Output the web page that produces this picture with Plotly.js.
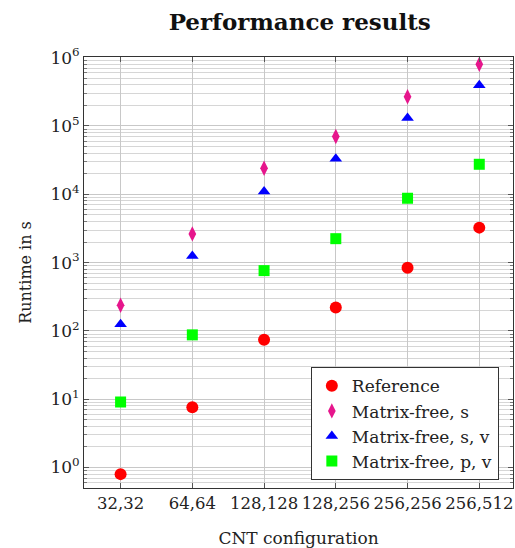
<!DOCTYPE html>
<html><head><meta charset="utf-8">
<script src="https://cdn.plot.ly/plotly-3.0.1.min.js"></script>
<style>html,body{margin:0;padding:0;background:#fff}#chart{width:515px;height:548px}</style>
</head><body><div id="chart"></div>
<script>
var categories = ["32,32","64,64","128,128","128,256","256,256","256,512"];
var reference = [0.80, 7.6, 74, 220, 840, 3250];
var mfS = [238, 2630, 24000, 70000, 268000, 800000];
var mfSV = [125, 1250, 11000, 33000, 131000, 394000];
var mfPV = [9.1, 87.5, 763, 2240, 8750, 27500];
var seriesNames = ["Reference","Matrix-free, s","Matrix-free, s, v","Matrix-free, p, v"];
var yTickVals = [1, 10, 100, 1000, 10000, 100000, 1000000];
var yTickText = ["10<sup>0</sup>","10<sup>1</sup>","10<sup>2</sup>","10<sup>3</sup>","10<sup>4</sup>","10<sup>5</sup>","10<sup>6</sup>"];

var font = "DejaVu Serif";
function tr(y, name, color, symbol, size){
  return {x: categories, y: y, name: name, type: 'scatter', mode: 'markers',
    marker: {color: color, symbol: symbol, size: size, line: {width: 0}}};
}
var data = [
  tr(reference, seriesNames[0], '#ff0000', 'circle', 12),
  tr(mfS, seriesNames[1], '#e6168c', 'diamond-tall', 11),
  tr(mfSV, seriesNames[2], '#0000ff', 'triangle-up', 11),
  tr(mfPV, seriesNames[3], '#00ff00', 'square', 11)
];
var layout = {
  width: 515, height: 548,
  margin: {l: 83.5, r: 2, t: 57, b: 60},
  paper_bgcolor: '#fff', plot_bgcolor: '#fff',
  font: {family: font, size: 16, color: '#222'},
  title: {text: '<b>Performance results</b>', font: {family: font, size: 23, color: '#111'}, x: 0.582, xanchor: 'center', y: 0.96, yanchor: 'middle'},
  xaxis: {type: 'category', range: [-0.51, 5.47], showgrid: true, gridcolor: '#c8c8c8', gridwidth: 1,
    showline: true, linecolor: '#333', linewidth: 1, mirror: 'ticks', ticks: 'inside', ticklen: 5, tickcolor: '#555',
    tickfont: {family: font, size: 16.5, color: '#222'}, zeroline: false,
    title: {text: 'CNT configuration', font: {family: font, size: 17, color: '#222'}, standoff: 20}},
  yaxis: {type: 'log', range: [-0.3, 6.01], showgrid: true, gridcolor: '#c8c8c8', gridwidth: 1,
    showline: true, linecolor: '#333', linewidth: 1, mirror: 'ticks', ticks: 'inside', ticklen: 5, tickcolor: '#555',
    tickmode: 'array', tickvals: yTickVals, ticktext: yTickText, tickfont: {family: font, size: 17, color: '#222'},
    minor: {dtick: 'D1', showgrid: true, gridcolor: '#d6d6d6', gridwidth: 1, ticks: 'inside', ticklen: 3, tickcolor: '#777'},
    title: {text: 'Runtime in s', font: {family: font, size: 16, color: '#222'}, standoff: 14}},
  legend: {x: 0.967, xanchor: 'right', y: 0.018, yanchor: 'bottom', bgcolor: '#fff', bordercolor: '#333', borderwidth: 1,
    font: {family: font, size: 17, color: '#222'}, tracegroupgap: 0, itemwidth: 30},
  showlegend: true
};
Plotly.newPlot('chart', data, layout, {displayModeBar: false, staticPlot: true});
</script></body></html>
